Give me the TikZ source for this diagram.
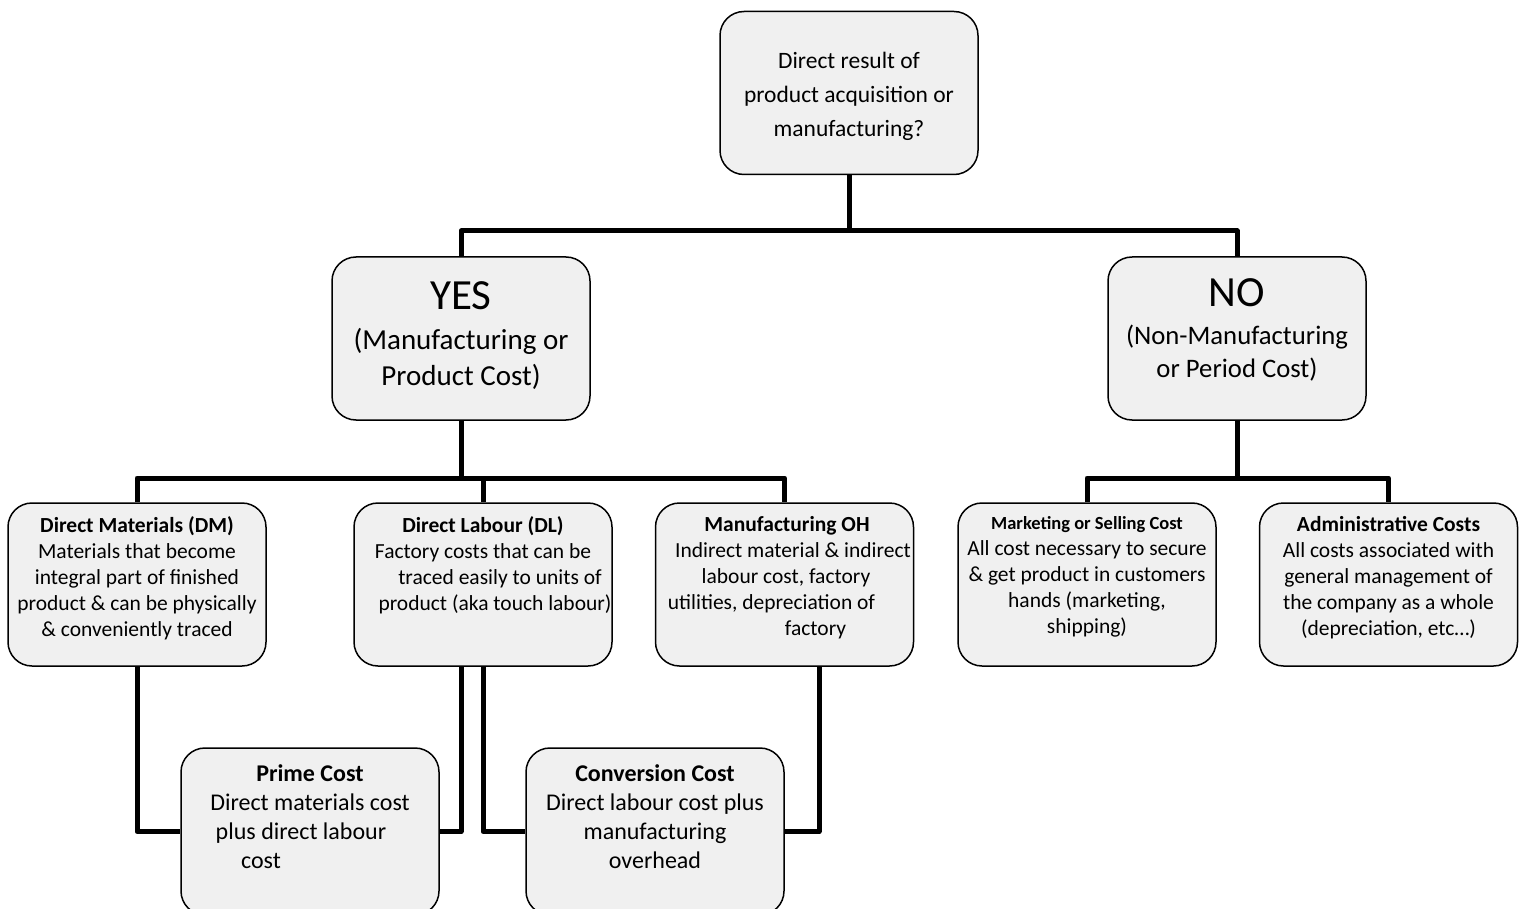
\documentclass[tikz,border=0pt]{standalone}
\usepackage{fontspec}
\setmainfont{Carlito}
\usetikzlibrary{positioning}
\begin{document}
\begin{tikzpicture}[x=1pt,y=-1pt,line join=round,
    box/.style={draw,line width=1.5pt,rounded corners=24pt,fill=gray!12,
      minimum width=258pt,minimum height=163pt,inner sep=0pt},
    txt/.style={align=center,inner sep=0pt,font=\fontsize{21.5}{26}\selectfont},
    link/.style={line width=5pt}]
  \useasboundingbox (0,0) rectangle (1525,909);
  \def\ytop{478}
  % question and the two answers
  \node[box] (ask) at (849,93) {};
  \node[box] (yes) at (461,338.5) {};
  \node[box] (no) at (1237,338.5) {};
  \node[txt,font=\fontsize{23.5}{34}\selectfont] (askt) at ([yshift=-3pt]ask.center)
    {Direct result of\\product acquisition or\\manufacturing?};
  \node[txt,font=\fontsize{29}{36}\selectfont] (yest) at ([yshift=3pt]yes.center)
    {{\fontsize{43}{50}\selectfont YES}\\[4pt](Manufacturing or\\Product Cost)};
  \node[txt,font=\fontsize{26.7}{33}\selectfont] (not) at ([yshift=9pt]no.center)
    {{\fontsize{43}{50}\selectfont NO}\\[5pt](Non-Manufacturing\\or Period Cost)};
  % cost groups
  \foreach \n/\x in {dm/137,dl/483,moh/784.5,mkt/1087,adm/1388.5}
    \node[box] (\n) at (\x,584.5) {};
  \node[txt,below=14pt of dm.north] (dmt) {\textbf{Direct Materials (DM)}\\
    Materials that become\\integral part of finished\\
    product \& can be physically\\\& conveniently traced};
  \node[txt,below=14pt of dl.north] (dlt) {\textbf{Direct Labour (DL)}\\
    Factory costs that can be\\\hspace*{34pt}traced easily to units of\\
    \hspace*{24pt}product (aka touch labour)};
  \node[txt,below=14pt of moh.north] (moht) {\hspace*{5pt}\textbf{Manufacturing OH}\\
    \hspace*{17pt}Indirect material \& indirect\\\hspace*{3pt}labour cost, factory\\
    \hspace*{-26pt}utilities, depreciation of\\\hspace*{62pt}factory};
  \node[txt,below=14pt of mkt.north] (mktt) {\textbf{\fontsize{18.5}{26}\selectfont Marketing or Selling Cost}\\
    All cost necessary to secure\\\& get product in customers\\
    hands (marketing,\\shipping)};
  \node[txt,below=14pt of adm.north] (admt) {\textbf{Administrative Costs}\\
    All costs associated with\\general management of\\
    the company as a whole\\(depreciation, etc\ldots)};
  % combined costs
  \node[box,minimum height=167pt] (prime) at (310,831.5) {};
  \node[box,minimum height=167pt] (conv) at (655,831.5) {};
  \node[txt,font=\fontsize{24}{29}\selectfont,below=17pt of prime.north] (primet)
    {\textbf{Prime Cost}\\Direct materials cost\\\hspace*{-18pt}plus direct labour\\\hspace*{-98pt}cost};
  \node[txt,font=\fontsize{24}{29}\selectfont,below=17pt of conv.north] (convt)
    {\textbf{Conversion Cost}\\Direct labour cost plus\\manufacturing\\overhead};
  % tree links
  \coordinate (j1) at (849,231);
  \coordinate (j2) at (461,\ytop);
  \coordinate (j3) at (1239,\ytop);
  \draw[link] (ask.south) -- (j1);
  \draw[link] (yes.north) |- (j1) -| (no.north);
  \draw[link] (yes.south) -- (j2);
  \draw[link] (dm.north) |- (j2) -| (moh.north);
  \draw[link] (j2 -| dl.north) -- (dl.north);
  \draw[link] (no.south |- j3) -- (no.south);
  \draw[link] (mkt.north) |- (j3) -| (adm.north);
  % links to prime and conversion cost
  \draw[link] (dm.south) |- (prime.west);
  \draw[link] ([xshift=-22pt]dl.south) |- (prime.east);
  \draw[link] (dl.south) |- (conv.west);
  \draw[link] ([xshift=34.5pt]moh.south) |- (conv.east);
\end{tikzpicture}
\end{document}
